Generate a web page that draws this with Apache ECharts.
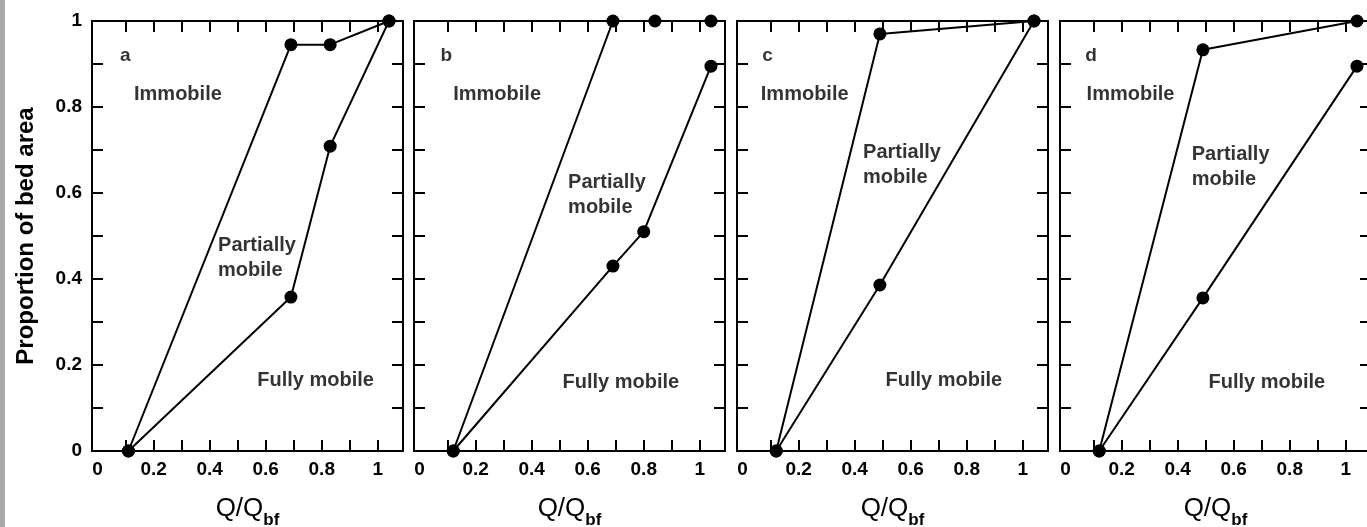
<!DOCTYPE html>
<html><head><meta charset="utf-8">
<script src="https://cdn.jsdelivr.net/npm/echarts@6/dist/echarts.min.js"></script>
<style>html,body{margin:0;padding:0;background:#fff}#c{width:1367px;height:527px}</style>
</head><body><div id="c"></div>
<script>
// ---- data ----
const panelLetters = ['a', 'b', 'c', 'd'];
const xLabelValues = [0, 0.2, 0.4, 0.6, 0.8, 1];
const yLabelValues = [0, 0.2, 0.4, 0.6, 0.8, 1];
const xTickValues = [0.1, 0.2, 0.3, 0.4, 0.5, 0.6, 0.7, 0.8, 0.9, 1];
const yTickValues = [0.1, 0.2, 0.3, 0.4, 0.5, 0.6, 0.7, 0.8, 0.9];
const regionNames = ['Immobile', 'Partially\nmobile', 'Fully mobile'];

const upperX_a = [0.11, 0.69, 0.83, 1.04];
const upperY_a = [0, 0.945, 0.945, 1];
const lowerX_a = [0.11, 0.69, 0.83, 1.04];
const lowerY_a = [0, 0.358, 0.709, 1];

const upperX_b = [0.12, 0.69, 0.84, 1.04];
const upperY_b = [0, 1, 1, 1];
const lowerX_b = [0.12, 0.69, 0.80, 1.04];
const lowerY_b = [0, 0.43, 0.51, 0.895];

const upperX_c = [0.12, 0.49, 1.04];
const upperY_c = [0, 0.97, 1];
const lowerX_c = [0.12, 0.49, 1.04];
const lowerY_c = [0, 0.386, 1];

const upperX_d = [0.12, 0.49, 1.04];
const upperY_d = [0, 0.933, 1];
const lowerX_d = [0.12, 0.49, 1.04];
const lowerY_d = [0, 0.356, 0.895];

// annotation anchor positions (left edge, vertical centre) in data units
const letterPos = [[0.08, 0.92], [0.075, 0.92], [0.07, 0.92], [0.07, 0.92]];
const immobilePos = [[0.13, 0.83], [0.12, 0.83], [0.065, 0.83], [0.075, 0.83]];
const partialPos = [[0.43, 0.45], [0.53, 0.595], [0.43, 0.665], [0.45, 0.66]];
const fullyPos = [[0.57, 0.163], [0.51, 0.16], [0.51, 0.163], [0.51, 0.16]];

const upperXs = [upperX_a, upperX_b, upperX_c, upperX_d];
const upperYs = [upperY_a, upperY_b, upperY_c, upperY_d];
const lowerXs = [lowerX_a, lowerX_b, lowerX_c, lowerX_d];
const lowerYs = [lowerY_a, lowerY_b, lowerY_c, lowerY_d];

// ---- layout ----
const FONT = 'Liberation Sans, Arial, Helvetica, sans-serif';
const gridLefts = [92, 414, 737, 1060];
const GW = 311, GT = 21, GH = 430;
const XMIN = -0.02, XMAX = 1.09;

const grids = [], xAxes = [], yAxes = [], series = [];
const zip = (xs, ys) => xs.map((x, i) => [x, ys[i]]);
const tickStyle = (vals) => ({ show: true, inside: true, length: 11, customValues: vals, lineStyle: { color: '#000', width: 2 } });
const noLine = { show: false, onZero: false };

panelLetters.forEach((letter, p) => {
  grids.push({ left: gridLefts[p], top: GT, width: GW, height: GH, show: true,
    outerBoundsMode: 'none', containLabel: false,
    borderColor: '#000', borderWidth: 2, backgroundColor: '#fff' });
  // bottom x
  xAxes.push({ gridIndex: p, type: 'value', min: XMIN, max: XMAX, position: 'bottom',
    axisLine: noLine, splitLine: { show: false },
    axisTick: tickStyle(xTickValues),
    axisLabel: { customValues: xLabelValues, color: '#000', fontFamily: FONT, fontWeight: 'bold', fontSize: 19, margin: 9,
      formatter: v => String(+v.toFixed(1)) },
    name: '{a|Q/Q}{b|bf}', nameLocation: 'middle', nameGap: 41,
    nameTextStyle: { rich: {
      a: { fontFamily: FONT, fontSize: 26, color: '#000', verticalAlign: 'bottom', lineHeight: 30 },
      b: { fontFamily: FONT, fontSize: 17, fontWeight: 'bold', color: '#000', verticalAlign: 'bottom', lineHeight: 30, padding: [0, 0, -7, 0] } } } });
  // top x (mirror ticks)
  xAxes.push({ gridIndex: p, type: 'value', min: XMIN, max: XMAX, position: 'top',
    axisLine: noLine, splitLine: { show: false }, axisLabel: { show: false },
    axisTick: tickStyle(xTickValues) });
  // left y
  yAxes.push({ gridIndex: p, type: 'value', min: 0, max: 1, position: 'left',
    axisLine: noLine, splitLine: { show: false },
    axisTick: tickStyle(yTickValues),
    axisLabel: { show: p === 0, customValues: yLabelValues, color: '#000', fontFamily: FONT, fontWeight: 'bold', fontSize: 19, margin: 10,
      formatter: v => String(+v.toFixed(1)) },
    name: p === 0 ? 'Proportion of bed area' : '', nameLocation: 'middle', nameGap: 54,
    nameTextStyle: { fontFamily: FONT, fontSize: 24, fontWeight: 'bold', color: '#000' } });
  // right y (mirror ticks)
  yAxes.push({ gridIndex: p, type: 'value', min: 0, max: 1, position: 'right',
    axisLine: noLine, splitLine: { show: false }, axisLabel: { show: false },
    axisTick: tickStyle(yTickValues) });

  const lineSeries = (data) => ({ type: 'line', xAxisIndex: 2 * p, yAxisIndex: 2 * p, data: data,
    clip: false, symbol: 'circle', symbolSize: 13, showSymbol: true,
    lineStyle: { color: '#000', width: 2 }, itemStyle: { color: '#000' }, z: 3, animation: false });
  series.push(lineSeries(zip(upperXs[p], upperYs[p])));
  series.push(lineSeries(zip(lowerXs[p], lowerYs[p])));

  const textItem = (pos, txt, size) => ({ value: pos, label: { show: true, formatter: txt, position: 'right', distance: 0,
    color: '#000', fontFamily: FONT, fontWeight: 'bold', fontSize: size, lineHeight: 25, align: 'left', verticalAlign: 'middle' } });
  series.push({ type: 'scatter', xAxisIndex: 2 * p, yAxisIndex: 2 * p, symbolSize: 0, silent: true, animation: false, z: 4,
    data: [
      textItem(letterPos[p], letter, 19),
      textItem(immobilePos[p], regionNames[0], 20),
      textItem(partialPos[p], regionNames[1], 20),
      textItem(fullyPos[p], regionNames[2], 20)
    ] });
});

const chart = echarts.init(document.getElementById('c'), null, { renderer: 'canvas' });
chart.setOption({
  animation: false,
  backgroundColor: '#fff',
  grid: grids, xAxis: xAxes, yAxis: yAxes, series: series,
  graphic: [{ type: 'rect', left: 0, top: 0, shape: { width: 5, height: 527 }, style: { fill: '#a9a9a9' }, z: 100 }]
});
</script></body></html>
